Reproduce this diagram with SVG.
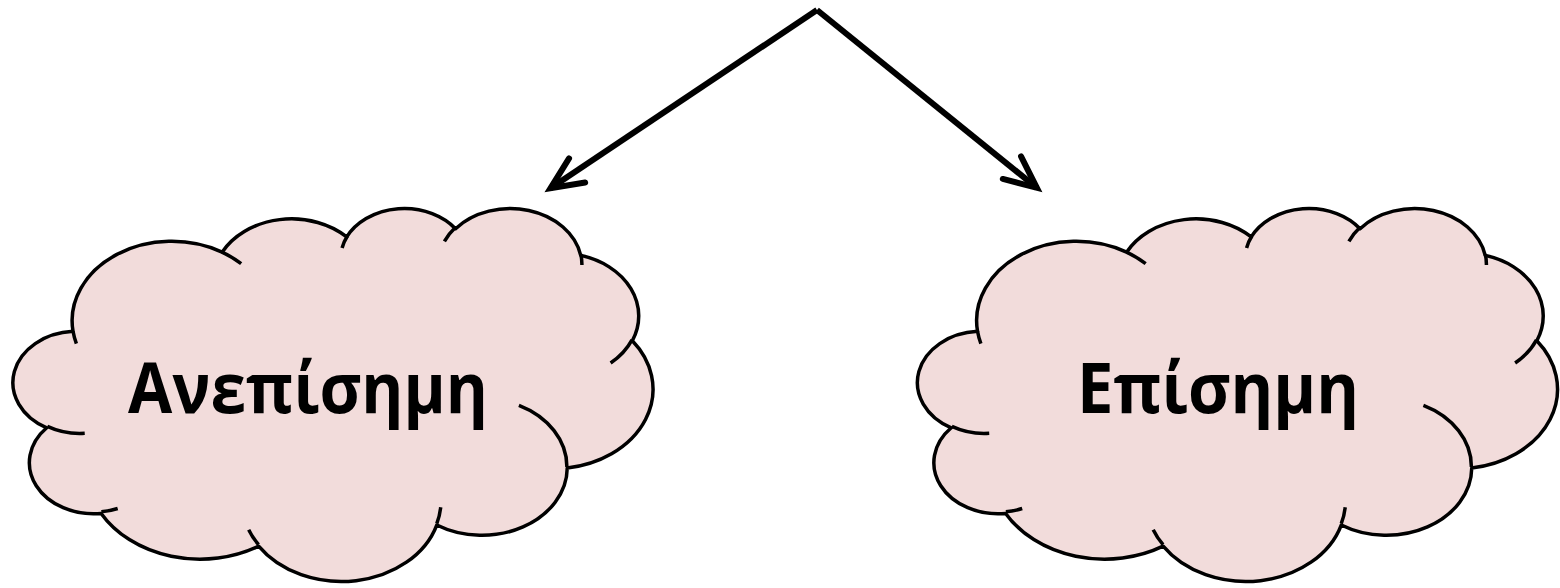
<svg xmlns="http://www.w3.org/2000/svg" xmlns:xlink="http://www.w3.org/1999/xlink" width="1560" height="588" viewBox="0 0 1560 588">
  <style>
    .cloud { fill: #F2DCDB; stroke: #000000; stroke-width: 3.5; stroke-linejoin: round; }
    .bumps { fill: none; stroke: #000000; stroke-width: 3.5; }
    .label { font-family: "Open Sans", "Noto Sans", "DejaVu Sans", sans-serif; font-weight: 700; font-size: 70px; fill: #000000; }
    .conn { fill: none; stroke: #000000; stroke-width: 6; stroke-linecap: butt; }
    .head { fill: none; stroke: #000000; stroke-width: 6; stroke-linecap: round; stroke-linejoin: miter; stroke-miterlimit: 10; }
  </style>
  <defs>
    <path id="cloudOutline" d="M 73.03 331.33 A 99.61 79.32 0 0 1 222.09 252.20 A 78.66 62.72 0 0 1 346.74 236.91 A 64.38 51.31 0 0 1 455.56 228.69 A 71.64 56.92 0 0 1 580.73 255.40 A 78.66 62.77 0 0 1 632.36 340.71 A 99.93 79.58 0 0 1 567.25 467.95 A 85.33 67.90 0 0 1 436.75 525.01 A 99.59 79.54 0 0 1 258.64 546.17 A 113.87 91.00 0 0 1 101.15 513.42 A 64.31 51.08 0 0 1 46.72 427.78 A 64.09 51.31 0 0 1 73.03 331.33 Z"/>
    <path id="cloudBumps" d="M 84.72 433.23 A 64.09 51.31 0 0 1 47.35 426.35 M 117.69 508.51 A 64.31 51.08 0 0 1 101.34 511.81 M 258.55 544.69 A 99.59 79.54 0 0 1 248.69 529.66 M 440.70 507.24 A 99.59 79.54 0 0 1 436.77 523.71 M 518.90 405.42 A 85.33 67.90 0 0 1 566.86 467.00 M 632.02 339.82 A 78.66 62.77 0 0 1 610.63 362.94 M 580.78 254.13 A 71.64 56.92 0 0 1 581.91 265.04 M 444.40 241.41 A 71.64 56.92 0 0 1 455.33 227.50 M 342.08 248.04 A 64.38 51.31 0 0 1 347.37 236.05 M 222.00 252.11 A 99.61 79.32 0 0 1 241.16 263.74 M 76.37 343.58 A 99.61 79.32 0 0 1 73.03 331.33"/>
    <marker id="openArrow" markerUnits="userSpaceOnUse" orient="auto" refX="0" refY="0" markerWidth="60" markerHeight="50" viewBox="-45 -25 60 50" overflow="visible">
      <path class="head" d="M -32 -14.5 L 0 0 L -32 14.5"/>
    </marker>
  </defs>

  <g id="connectors">
    <line class="conn" x1="817" y1="10" x2="550.5" y2="188.3" marker-end="url(#openArrow)"/>
    <line class="conn" x1="817" y1="10" x2="1036.8" y2="187.8" marker-end="url(#openArrow)"/>
  </g>

  <g id="node-anepisimi">
    <use xlink:href="#cloudOutline" class="cloud"/>
    <use xlink:href="#cloudBumps" class="bumps"/>
    <text class="label" x="128" y="413" textLength="360" lengthAdjust="spacingAndGlyphs">Ανεπίσημη</text>
  </g>

  <g id="node-episimi">
    <use xlink:href="#cloudOutline" class="cloud" transform="translate(904.5,0)"/>
    <use xlink:href="#cloudBumps" class="bumps" transform="translate(904.5,0)"/>
    <text class="label" x="1077" y="413" textLength="282" lengthAdjust="spacingAndGlyphs">Επίσημη</text>
  </g>
</svg>
